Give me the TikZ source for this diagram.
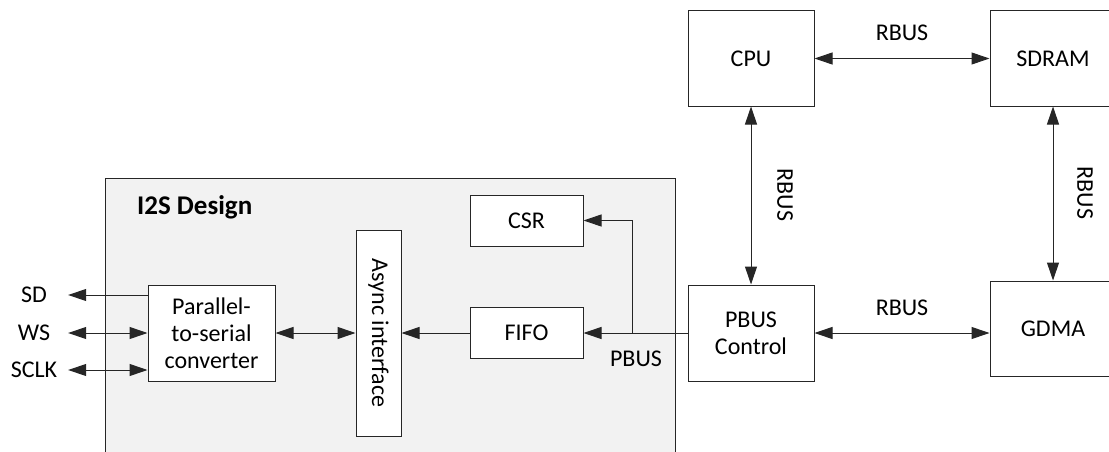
\documentclass[tikz,border=0pt]{standalone}
\usepackage{fontspec}
\setmainfont{Carlito}
\usetikzlibrary{arrows.meta,calc,positioning}
\definecolor{DiagramLine}{RGB}{38,38,38}
\definecolor{DesignGray}{RGB}{242,242,242}

\begin{document}
\begin{tikzpicture}[x=1pt, y=-1pt,
    >={Triangle[length=18pt,width=12pt]},
    block/.style={draw=DiagramLine, line width=1pt, fill=white, inner sep=0pt, align=center, font=\fontsize{24}{27}\selectfont},
    lbl/.style={inner sep=0pt, font=\fontsize{24}{27}\selectfont},
    bus/.style={draw=DiagramLine, line width=1pt}]
    \useasboundingbox (0,0) rectangle (1109,452);
    \clip (0,0) rectangle (1109,452);
    % I2S design frame
    \node[draw=DiagramLine, line width=1pt, fill=DesignGray, minimum width=570pt, minimum height=300pt] (i2s) at (390,328) {};
    \node[anchor=west, inner sep=0pt, font=\bfseries\fontsize{27}{30}\selectfont] (title) at (137,207) {I2S Design};
    % Blocks inside the design
    \node[block, minimum width=127pt, minimum height=96pt] (p2s) at (211.5,333) {Parallel-\\to-serial\\converter};
    \node[block, rotate=-90, minimum width=206pt, minimum height=45pt] (async) at (378.5,333) {Async interface};
    \node[block, minimum width=113pt, minimum height=51pt] (csr) at (526.5,220.5) {CSR};
    \node[block, minimum width=113pt, minimum height=51pt] (fifo) at (526.5,333) {FIFO};
    % System blocks
    \node[block, minimum width=126pt, minimum height=95pt] (cpu) at (751,58.5) {CPU};
    \node[block, minimum width=126pt, minimum height=95pt] (sdram) at (1053,58.5) {SDRAM};
    \node[block, minimum width=126pt, minimum height=96pt] (pbus) at (751,333) {PBUS\\Control};
    \node[block, minimum width=126pt, minimum height=95pt] (gdma) at (1053,328.5) {GDMA};
    % Serial pins
    \node[lbl, minimum width=68pt] (sd) at (34,295) {SD};
    \node[lbl, minimum width=68pt] (ws) at (34,333) {WS};
    \node[lbl, minimum width=68pt] (sclk) at (34,370) {SCLK};
    \draw[bus, <-] (sd) -- (sd -| p2s.west);
    \draw[bus, <->] (ws) -- (ws -| p2s.west);
    \draw[bus, <->] (sclk) -- (sclk -| p2s.west);
    % Internal data path
    \draw[bus, <->] (p2s) -- (async);
    \draw[bus, ->] (fifo) -- (async);
    \coordinate (split) at (632,333);
    \draw[bus, ->] (pbus) -- (fifo);
    \draw[bus, ->] (split) |- (csr);
    \node[lbl] (pbuslbl) at (636,359) {PBUS};
    % Register bus connections
    \draw[bus, <->] (cpu) -- (sdram) node[lbl, midway, above=17pt] (rbusa) {RBUS};
    \draw[bus, <->] (cpu) -- (pbus);
    \node[lbl, rotate=-90] (rbusb) at (785,195) {RBUS};
    \draw[bus, <->] (sdram) -- (gdma);
    \node[lbl, rotate=-90] (rbusc) at (1085,193) {RBUS};
    \draw[bus, <->] (pbus.east) -- (pbus.east -| gdma.west) node[lbl, midway, above=17pt] (rbusd) {RBUS};
\end{tikzpicture}
\end{document}
